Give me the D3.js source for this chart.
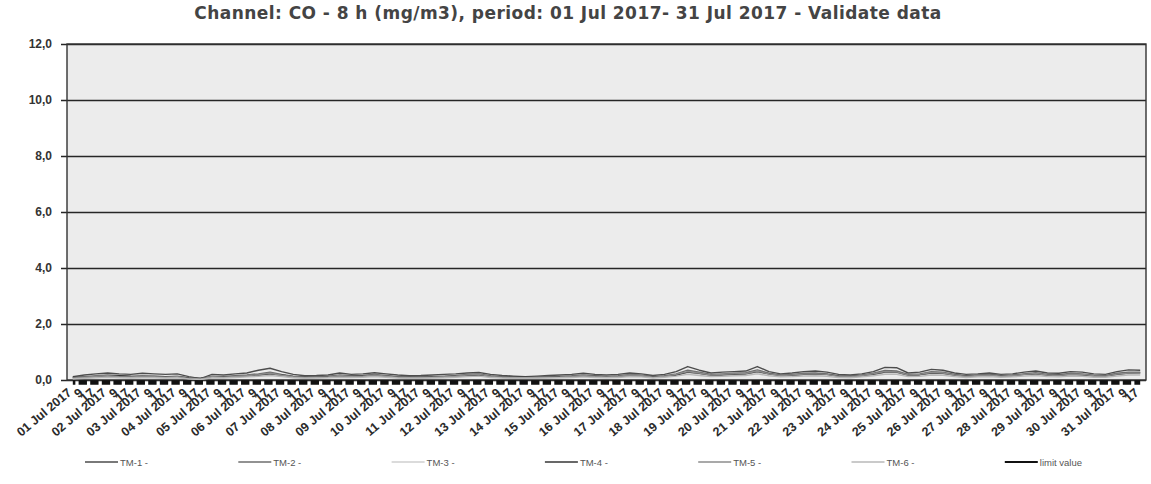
<!DOCTYPE html>
<html><head><meta charset="utf-8">
<script src="https://cdn.jsdelivr.net/npm/d3@7"></script>
<style>body{margin:0;background:#fff}svg{display:block}</style>
</head><body><svg id="c" width="1151" height="484"></svg>
<script>
const title = "Channel: CO - 8 h (mg/m3), period: 01 Jul 2017- 31 Jul 2017 - Validate data";
const days = d3.range(1, 32).map(d => String(d).padStart(2, "0") + " Jul 2017");
const hourLabels = ["", "9", "17"];
const categories = [];
days.forEach(d => hourLabels.forEach(h => categories.push(h === "" ? d : h)));
const yTicks = [0, 2, 4, 6, 8, 10, 12];
const seriesNames = ["TM-1 -", "TM-2 -", "TM-3 -", "TM-4 -", "TM-5 -", "TM-6 -", "limit value"];

const tm1 = [0.12,0.18,0.22, 0.25,0.22,0.2, 0.24,0.22,0.2, 0.22,0.12,0.05, 0.2,0.18,0.22, 0.25,0.35,0.42,
  0.3,0.2,0.15, 0.16,0.18,0.25, 0.2,0.22,0.26, 0.22,0.18,0.15, 0.16,0.18,0.2, 0.22,0.25,0.27,
  0.2,0.16,0.14, 0.12,0.14,0.16, 0.18,0.2,0.24, 0.2,0.18,0.2, 0.25,0.22,0.16, 0.2,0.3,0.48,
  0.35,0.25,0.28, 0.3,0.32,0.48, 0.3,0.22,0.25, 0.3,0.32,0.28, 0.2,0.18,0.22, 0.3,0.45,0.44,
  0.25,0.28,0.38, 0.35,0.25,0.2, 0.22,0.25,0.2, 0.22,0.28,0.32, 0.25,0.24,0.3, 0.28,0.22,0.2, 0.3,0.36,0.35];
const tm2 = [0.08,0.12,0.15, 0.18,0.16,0.14, 0.15,0.14,0.12, 0.14,0.08,0.04, 0.14,0.12,0.15, 0.18,0.22,0.28,
  0.2,0.14,0.1, 0.12,0.13,0.18, 0.15,0.16,0.2, 0.16,0.12,0.1, 0.11,0.12,0.14, 0.16,0.2,0.22,
  0.15,0.12,0.1, 0.09,0.1,0.12, 0.13,0.15,0.18, 0.15,0.13,0.15, 0.2,0.18,0.12, 0.15,0.22,0.35,
  0.28,0.2,0.22, 0.24,0.26,0.36, 0.24,0.18,0.2, 0.24,0.25,0.22, 0.15,0.14,0.18, 0.24,0.34,0.32,
  0.2,0.22,0.3, 0.28,0.2,0.15, 0.18,0.2,0.16, 0.18,0.22,0.26, 0.2,0.19,0.24, 0.22,0.17,0.16, 0.24,0.28,0.28];
const tm3 = [0.05,0.08,0.1, 0.12,0.1,0.09, 0.1,0.1,0.08, 0.1,0.05,0.03, 0.1,0.09,0.11, 0.13,0.16,0.2,
  0.15,0.1,0.07, 0.08,0.1,0.13, 0.11,0.12,0.15, 0.12,0.09,0.07, 0.08,0.09,0.1, 0.12,0.15,0.17,
  0.11,0.09,0.07, 0.07,0.08,0.09, 0.1,0.11,0.14, 0.11,0.1,0.11, 0.15,0.14,0.09, 0.12,0.17,0.26,
  0.21,0.15,0.17, 0.19,0.2,0.27, 0.19,0.14,0.15, 0.18,0.19,0.17, 0.11,0.1,0.14, 0.19,0.26,0.25,
  0.15,0.17,0.23, 0.21,0.15,0.11, 0.14,0.15,0.12, 0.14,0.17,0.2, 0.15,0.14,0.18, 0.17,0.13,0.12, 0.18,0.22,0.22];
const tm4 = [0.1,0.1,0.12, 0.14,0.15,0.13, 0.12,0.13,0.12, 0.11,0.07,0.06, 0.1,0.12,0.13, 0.14,0.18,0.22,
  0.18,0.12,0.11, 0.1,0.12,0.15, 0.14,0.15,0.17, 0.14,0.11,0.1, 0.1,0.11,0.12, 0.14,0.16,0.18,
  0.13,0.11,0.1, 0.1,0.1,0.11, 0.12,0.13,0.15, 0.14,0.12,0.13, 0.16,0.15,0.12, 0.13,0.18,0.28,
  0.24,0.18,0.19, 0.2,0.22,0.3, 0.22,0.16,0.17, 0.2,0.21,0.2, 0.14,0.13,0.16, 0.2,0.28,0.28,
  0.18,0.19,0.25, 0.24,0.18,0.14, 0.16,0.18,0.15, 0.16,0.2,0.22, 0.18,0.17,0.2, 0.19,0.15,0.14, 0.2,0.25,0.26];
const tm5 = [0.07,0.1,0.13, 0.15,0.12,0.11, 0.13,0.12,0.1, 0.12,0.06,0.04, 0.12,0.1,0.13, 0.15,0.19,0.24,
  0.17,0.12,0.09, 0.1,0.11,0.16, 0.13,0.14,0.18, 0.14,0.1,0.08, 0.09,0.1,0.12, 0.14,0.18,0.2,
  0.13,0.1,0.08, 0.08,0.09,0.1, 0.11,0.13,0.16, 0.13,0.11,0.13, 0.18,0.16,0.1, 0.13,0.2,0.3,
  0.25,0.18,0.2, 0.22,0.23,0.32, 0.22,0.16,0.18, 0.21,0.22,0.2, 0.13,0.12,0.16, 0.22,0.3,0.29,
  0.18,0.2,0.27, 0.25,0.18,0.13, 0.16,0.18,0.14, 0.16,0.2,0.23, 0.18,0.16,0.21, 0.2,0.15,0.14, 0.21,0.25,0.25];
const tm6 = [0.04,0.06,0.08, 0.1,0.08,0.07, 0.08,0.08,0.07, 0.08,0.04,0.02, 0.08,0.07,0.09, 0.11,0.13,0.16,
  0.12,0.08,0.06, 0.07,0.08,0.1, 0.09,0.1,0.12, 0.1,0.07,0.06, 0.06,0.07,0.08, 0.1,0.12,0.14,
  0.09,0.07,0.06, 0.06,0.06,0.07, 0.08,0.09,0.11, 0.09,0.08,0.09, 0.12,0.11,0.07, 0.1,0.14,0.2,
  0.16,0.12,0.13, 0.15,0.16,0.22, 0.15,0.11,0.12, 0.14,0.15,0.13, 0.09,0.08,0.11, 0.15,0.2,0.2,
  0.12,0.13,0.18, 0.17,0.12,0.09, 0.11,0.12,0.1, 0.11,0.14,0.16, 0.12,0.11,0.14, 0.13,0.1,0.1, 0.14,0.18,0.18];
const limitValue = categories.map(() => 0);

const seriesValues = [tm1, tm2, tm3, tm4, tm5, tm6, limitValue];
const colors = ["#4d4d4d", "#6e6e6e", "#cfcfcf", "#363636", "#8c8c8c", "#b8b8b8", "#111"];
const widths = [1.4, 1.4, 1.4, 1.4, 1.4, 1.4, 1.5];

const svg = d3.select("#c");
const m = {l: 67, r: 1146, t: 44, b: 380};

const x = d3.scalePoint().domain(d3.range(categories.length)).range([m.l, m.r]).padding(0.5);
const y = d3.scaleLinear().domain([0, 12]).range([m.b, m.t]);
const step = x.step();

svg.append("rect").attr("x", m.l).attr("y", m.t).attr("width", m.r - m.l).attr("height", m.b - m.t)
  .attr("fill", "#ececec");

// grid + y axis
const yAxis = d3.axisLeft(y).tickValues(yTicks).tickSize(-(m.r - m.l)).tickSizeOuter(0)
  .tickFormat(d => d3.format(".1f")(d).replace(".", ",")).tickPadding(15);
const gy = svg.append("g").attr("transform", `translate(${m.l},0)`).call(yAxis);
gy.select(".domain").remove();
gy.selectAll(".tick line").attr("stroke", "#262626").attr("stroke-width", 1.5).attr("x1", -6);
gy.selectAll(".tick text").attr("font-family", "Liberation Sans, Arial, sans-serif")
  .attr("font-size", 12).attr("font-weight", "bold").attr("fill", "#333");

// frame
svg.append("rect").attr("x", m.l).attr("y", m.t).attr("width", m.r - m.l).attr("height", m.b - m.t)
  .attr("fill", "none").attr("stroke", "#333").attr("stroke-width", 1.4);

// x axis labels
const xAxis = d3.axisBottom(x).tickSize(0).tickFormat(i => categories[i]);
const gx = svg.append("g").attr("transform", `translate(0,${m.b})`).call(xAxis);
gx.select(".domain").remove();
gx.selectAll(".tick text").attr("font-family", "Liberation Sans, Arial, sans-serif")
  .attr("font-size", 12.5).attr("font-weight", "bold").attr("fill", "#2b2b2b")
  .attr("text-anchor", "end").attr("dy", null).attr("y", 0)
  .attr("transform", "translate(-1,14) rotate(-40)");

// lines
const line = d3.line().x((d, i) => x(i)).y(d => y(d));
seriesValues.forEach((vals, k) => {
  if (k === 6) return;
  svg.append("path").datum(vals).attr("d", line).attr("fill", "none")
    .attr("stroke", colors[k]).attr("stroke-width", widths[k]).attr("stroke-linejoin", "round");
});
// limit value line (thick dashed at the base)
svg.append("path").datum(limitValue)
  .attr("d", d3.line().x((d, i) => x(i)).y(d => y(d) + 2.5))
  .attr("fill", "none").attr("stroke", "#111").attr("stroke-width", 4.5)
  .attr("stroke-dasharray", `${step * 0.72},${step * 0.28}`)
  .attr("stroke-dashoffset", step * 0.5);

// title
svg.append("text").attr("x", 568).attr("y", 19).attr("text-anchor", "middle")
  .attr("font-family", "DejaVu Sans, Verdana, sans-serif").attr("font-weight", "bold")
  .attr("font-size", 17).attr("letter-spacing", 0.45).attr("fill", "#444").text(title);

// legend
const lg = svg.append("g");
seriesNames.forEach((name, k) => {
  const lx = 85 + k * 153.3;
  lg.append("line").attr("x1", lx).attr("x2", lx + 33).attr("y1", 462).attr("y2", 462)
    .attr("stroke", colors[k]).attr("stroke-width", k === 6 ? 2 : 1.3);
  lg.append("text").attr("x", lx + 35).attr("y", 465.5).attr("font-family", "Liberation Sans, Arial, sans-serif")
    .attr("font-size", 9.5).attr("fill", "#555").text(name);
});
</script></body></html>
